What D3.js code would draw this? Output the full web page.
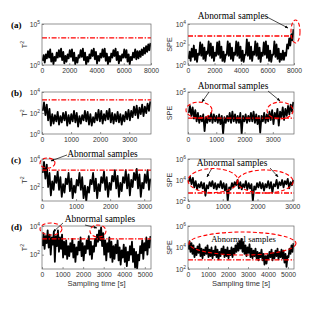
<!DOCTYPE html>
<html>
<head>
<meta charset="utf-8">
<script src="https://cdn.jsdelivr.net/npm/d3@7"></script>
<style>
body { margin: 0; background: #fff; }
svg { display: block; }
</style>
</head>
<body>
<script>
// every series is a list of [low, high] log10 values, one pair per time bin
var t2A = [[0.5,1.2],[0.3,1.3],[0.8,1.7],[0.9,1.9],[0.4,1.4],[0.1,1.0],[0.5,1.5],[0.9,1.8],[1.0,2.0],[0.6,1.6],
  [0.2,1.1],[0.4,1.3],[0.8,1.8],[1.0,1.9],[0.5,1.5],[0.1,0.9],[0.3,1.2],[0.9,1.8],[1.0,2.0],[0.6,1.5],
  [0.0,1.0],[0.4,1.3],[0.8,1.8],[1.1,2.0],[0.7,1.6],[0.2,1.1],[0.5,1.4],[0.9,1.9],[1.0,2.0],[0.5,1.4],
  [0.1,1.0],[0.4,1.4],[0.9,1.8],[1.1,2.0],[0.6,1.6],[0.2,1.1],[0.5,1.3],[0.9,1.9],[0.9,1.8],[0.4,1.3],
  [0.1,1.0],[0.6,1.5],[0.9,1.9],[0.7,1.7],[0.8,1.7],[1.0,1.9],[1.2,2.1],[1.4,2.3],[1.6,2.5],[1.8,2.7]];
var speA = [[0.6,1.3],[0.4,1.6],[0.8,1.9],[0.5,1.5],[0.3,1.1],[1.0,2.2],[0.9,2.0],[0.6,1.7],[0.4,1.3],[1.1,2.3],
  [0.9,2.1],[0.7,1.8],[0.4,1.2],[0.9,2.2],[1.0,2.3],[0.7,1.8],[0.4,1.3],[0.3,1.0],[1.0,2.3],[0.9,2.1],
  [0.6,1.7],[0.4,1.2],[1.0,2.3],[0.9,2.2],[0.7,1.8],[0.4,1.4],[0.3,1.0],[1.0,2.5],[0.9,2.2],[0.6,1.8],
  [0.4,1.3],[1.0,2.3],[0.9,2.1],[0.6,1.7],[0.3,1.2],[0.9,2.2],[1.0,2.3],[0.7,1.9],[0.4,1.4],[0.3,1.0],
  [1.0,2.3],[0.8,2.0],[0.6,1.6],[0.3,1.1],[0.5,1.4],[0.5,1.2],[0.9,2.0],[1.6,2.6],[1.9,3.0],[2.4,3.5]];
var t2B = [[2.2,3.0],[1.8,2.8],[1.3,2.4],[0.8,1.9],[1.0,1.8],[1.2,2.1],[0.9,1.7],[1.1,2.0],[1.3,2.1],[0.8,1.8],
  [1.0,1.9],[1.2,2.2],[1.1,2.0],[0.7,1.7],[1.0,1.8],[1.3,2.2],[1.2,2.1],[0.9,1.9],[0.8,1.6],[1.1,2.0],
  [1.3,2.3],[1.2,2.2],[1.0,1.9],[1.3,2.2],[1.4,2.4],[1.1,2.0],[1.0,1.9],[1.2,2.1],[1.1,1.9],[0.9,1.8],
  [1.2,2.1],[1.4,2.3],[1.3,2.2],[1.6,2.6],[1.8,2.7],[1.5,2.5],[1.9,2.8],[1.7,2.6],[2.0,2.9],[2.2,3.1]];
var speB = [[3.5,4.0],[3.3,3.9],[3.1,3.7],[2.9,3.5],[2.8,3.3],[2.9,3.4],[2.2,3.2],[2.8,3.3],[2.9,3.5],[2.8,3.4],
  [2.9,3.3],[2.8,3.4],[2.7,3.3],[2.0,3.2],[2.8,3.3],[2.9,3.5],[2.8,3.6],[2.9,3.4],[2.8,3.3],[2.8,3.5],
  [2.0,3.3],[2.9,3.4],[2.8,3.3],[2.9,3.5],[2.9,3.6],[2.8,3.4],[2.7,3.3],[2.1,3.3],[2.9,3.5],[2.8,3.4],
  [2.9,3.6],[3.0,3.7],[2.7,3.5],[3.1,3.8],[2.6,3.6],[3.2,3.9],[3.0,3.8],[3.3,4.0],[3.4,4.1],[3.6,4.3]];
var t2C = [[3.0,3.8],[2.6,3.6],[2.0,3.0],[1.4,2.4],[1.8,2.8],[2.3,3.1],[1.8,2.7],[1.3,2.2],[1.6,2.6],[2.2,3.0],
  [1.7,2.6],[1.2,2.1],[1.6,2.5],[2.1,3.0],[1.8,2.7],[1.2,2.1],[1.0,2.0],[1.6,2.5],[2.2,3.0],[1.7,2.6],
  [1.2,2.2],[1.7,2.7],[2.3,3.1],[1.8,2.7],[1.3,2.3],[1.8,2.8],[2.4,3.2],[1.9,2.8],[1.3,2.3],[1.7,2.7],
  [2.3,3.2],[1.9,2.9],[1.4,2.5],[2.0,3.0],[2.5,3.3],[1.9,2.9],[1.3,2.3],[1.9,2.9],[2.3,3.2],[1.8,2.6]];
var speC = [[3.8,4.3],[3.6,4.2],[3.3,3.9],[3.1,3.6],[3.3,3.8],[3.2,3.7],[2.5,3.5],[3.2,3.8],[3.4,3.9],[3.2,3.7],
  [3.1,3.6],[3.3,3.9],[3.2,3.7],[3.0,3.6],[2.0,3.3],[3.1,3.7],[3.3,3.8],[3.5,4.0],[3.2,3.8],[3.1,3.6],
  [3.3,3.9],[3.1,3.7],[3.2,3.6],[2.0,3.4],[3.1,3.7],[3.3,3.8],[3.2,3.7],[3.0,3.6],[3.3,3.9],[3.2,3.8],
  [2.8,3.6],[3.4,4.0],[3.2,3.8],[3.5,4.0],[3.3,3.9],[3.6,4.1],[3.2,3.8],[3.5,4.0]];
var t2D = [[2.6,3.5],[2.4,3.3],[2.8,3.7],[2.5,3.4],[2.0,3.2],[2.7,3.6],[1.5,3.3],[2.6,3.7],[2.2,3.2],[2.4,3.4],
  [1.8,2.9],[2.0,3.0],[1.7,2.6],[1.9,2.8],[2.2,3.1],[1.8,2.7],[1.5,2.5],[2.0,2.9],[2.3,3.2],[1.9,2.8],
  [1.6,2.6],[2.1,3.0],[2.4,3.3],[2.0,2.9],[1.7,2.6],[2.2,3.1],[2.6,3.4],[2.9,3.7],[3.0,3.9],[2.6,3.5],
  [2.0,3.0],[1.6,2.8],[2.2,3.2],[1.8,2.9],[1.5,2.6],[1.7,2.7],[2.1,3.0],[1.6,2.5],[1.3,2.3],[1.8,2.7],
  [1.5,2.5],[1.2,2.2],[1.6,2.6],[2.0,2.9],[1.5,2.4],[1.1,2.2],[1.0,2.0],[1.6,2.6],[2.1,3.0],[1.7,2.8],
  [2.3,3.2],[2.0,3.0],[2.5,3.3]];
var speD = [[3.8,4.6],[3.6,4.4],[3.4,4.2],[3.1,3.9],[3.3,4.1],[3.5,4.3],[3.2,3.9],[3.0,3.8],[3.3,4.0],[3.4,4.2],
  [3.1,3.8],[3.2,4.0],[3.0,3.7],[3.3,4.1],[3.1,3.8],[2.9,3.6],[3.2,3.9],[3.4,4.1],[3.1,3.8],[3.2,4.0],
  [3.0,3.7],[3.3,4.0],[3.1,3.9],[3.4,4.2],[3.6,4.4],[3.7,4.6],[3.9,4.8],[3.6,4.5],[3.4,4.2],[3.2,4.0],
  [3.5,4.3],[3.1,3.9],[3.0,3.7],[3.2,3.9],[3.0,3.6],[2.8,3.5],[3.1,3.8],[2.8,3.4],[2.4,3.2],[2.5,3.3],
  [2.9,3.6],[3.1,3.8],[2.8,3.5],[3.0,3.7],[3.2,3.9],[2.9,3.6],[3.1,3.8],[3.0,3.7],[2.6,3.4],[2.2,3.2],
  [3.1,3.9],[3.4,4.2],[3.6,4.4]];

// control limits (log10)
var limitsT2 = [3.3, 3.25, 3.2, 3.1];
var limitsSPE = [2.83, 3.14, 2.76, 2.84];

var panelNames = ["(a)", "(b)", "(c)", "(d)"];
var timeMax = [8000, 3750, 3200, 5300];
var timeMaxSPE = [8000, 3750, 3050, 5300];
var timeTicks = [[0, 2000, 4000, 6000, 8000], [0, 1000, 2000, 3000], [0, 1000, 2000, 3000],
  [0, 1000, 2000, 3000, 4000, 5000]];
var t2Range = [[0, 5], [0, 4], [1, 4], [1, 4]];
var t2Ticks = [[0, 5], [0, 2, 4], [2, 4], [2, 4]];
var speRange = [[0, 4], [2, 5], [2, 6], [2, 6]];
var speTicks = [[0, 2, 4], [5], [2, 4, 6], [2, 4, 6]];

// annotations, in data units of their panel (panel = row*2 + col)
var notes = [
  {p: 1, kind: "text", x: 3396, y: 4.49},
  {p: 1, kind: "arrow", x1: 5962, y1: 4.68, x2: 7547, y2: 3.61},
  {p: 1, kind: "ellipse", cx: 8113, cy: 3.27, rx: 340, ry: 1.12},
  {p: 3, kind: "text", x: 1593, y: 5.2},
  {p: 3, kind: "arrow", x1: 743, y1: 5.0, x2: 496, y2: 4.29},
  {p: 3, kind: "arrow", x1: 2832, y1: 5.07, x2: 3257, y2: 4.36},
  {p: 3, kind: "ellipse", cx: 389, cy: 3.71, rx: 460, ry: 0.57},
  {p: 3, kind: "ellipse", cx: 3257, cy: 3.68, rx: 460, ry: 0.6},
  {p: 4, kind: "text", x: 1776, y: 4.14},
  {p: 4, kind: "arrow", x1: 734, y1: 4.29, x2: 264, y2: 3.86},
  {p: 4, kind: "ellipse", cx: 161, cy: 3.71, rx: 220, ry: 0.36},
  {p: 5, kind: "text", x: 1267, y: 5.33},
  {p: 5, kind: "arrow", x1: 691, y1: 5.14, x2: 547, y2: 4.29},
  {p: 5, kind: "arrow", x1: 2362, y1: 5.14, x2: 2592, y2: 4.29},
  {p: 5, kind: "ellipse", cx: 720, cy: 3.95, rx: 720, ry: 1.14},
  {p: 5, kind: "ellipse", cx: 2218, cy: 3.86, rx: 806, ry: 1.1},
  {p: 6, kind: "text", x: 2819, y: 4.28},
  {p: 6, kind: "arrow", x1: 1021, y1: 4.21, x2: 535, y2: 3.58},
  {p: 6, kind: "arrow", x1: 2090, y1: 4.07, x2: 2673, y2: 3.86},
  {p: 6, kind: "ellipse", cx: 437, cy: 3.79, rx: 535, ry: 0.42},
  {p: 6, kind: "ellipse", cx: 2722, cy: 3.65, rx: 389, ry: 0.42},
  {p: 7, kind: "ellipse", cx: 2725, cy: 4.37, rx: 2675, ry: 1.07},
  {p: 7, kind: "text", x: 2775, y: 4.51, small: true}
];

var t2Series = [t2A, t2B, t2C, t2D];
var speSeries = [speA, speB, speC, speD];

var width = 327, height = 309;
var colX = [[42, 151], [188, 294]];
var rowY = [[24, 65], [92, 134], [159, 201], [226, 269]];
var sans = "'Liberation Sans', Arial, sans-serif",
    serif = "'Liberation Serif', 'Times New Roman', serif";

var svg = d3.select("body").append("svg")
  .attr("width", width).attr("height", height);

var defs = svg.append("defs");
defs.append("marker")
  .attr("id", "head")
  .attr("viewBox", "0 0 10 10")
  .attr("refX", 9).attr("refY", 5)
  .attr("markerWidth", 5).attr("markerHeight", 5)
  .attr("orient", "auto")
  .append("path").attr("d", "M0,1 L10,5 L0,9 Z").attr("fill", "#000");

var panels = [];
for (var r = 0; r < 4; r++) {
  panels.push({row: r, col: 0, name: panelNames[r], label: "T2", bins: t2Series[r], xMax: timeMax[r],
    xTicks: timeTicks[r], yDom: t2Range[r], yTicks: t2Ticks[r], limit: limitsT2[r]});
  panels.push({row: r, col: 1, label: "SPE", bins: speSeries[r], xMax: timeMaxSPE[r],
    xTicks: timeTicks[r], yDom: speRange[r], yTicks: speTicks[r], limit: limitsSPE[r]});
}

function pow10(v) { return Math.pow(10, v); }

function supLabel(sel, base, exp, size) {
  sel.append("tspan").text(base);
  sel.append("tspan").attr("dy", -size * 0.45).attr("font-size", size * 0.72).text(exp);
}

panels.forEach(function(p, idx) {
  var x = d3.scaleLinear().domain([0, p.xMax]).range(colX[p.col]);
  var y = d3.scaleLog().domain([pow10(p.yDom[0]), pow10(p.yDom[1])]).range([rowY[p.row][1], rowY[p.row][0]]);
  p.x = x; p.y = y;
  var g = svg.append("g");
  var x0 = colX[p.col][0], x1 = colX[p.col][1], y0 = rowY[p.row][0], y1 = rowY[p.row][1];

  g.append("clipPath").attr("id", "clip" + idx)
    .append("rect").attr("x", x0).attr("y", y0).attr("width", x1 - x0).attr("height", y1 - y0);

  // bottom axis with inward ticks
  var xa = g.append("g").attr("transform", "translate(0," + y1 + ")")
    .call(d3.axisBottom(x).tickValues(p.xTicks).tickSize(-2).tickPadding(3).tickFormat(d3.format("d")));
  xa.select(".domain").remove();
  xa.selectAll("line").attr("stroke", "#555").attr("stroke-width", 0.6);
  xa.selectAll("text").attr("font-family", sans).attr("font-size", 6.8).attr("fill", "#333");

  var ya = g.append("g").attr("transform", "translate(" + x0 + ",0)")
    .call(d3.axisLeft(y).tickValues(p.yTicks.map(pow10)).tickSize(-2).tickPadding(2).tickFormat(""));
  ya.select(".domain").remove();
  ya.selectAll("line").attr("stroke", "#555").attr("stroke-width", 0.6);
  ya.selectAll(".tick").each(function(d) {
    var t = d3.select(this).append("text")
      .attr("x", -2).attr("dy", "0.32em")
      .attr("text-anchor", "end")
      .attr("font-family", sans).attr("font-size", 6.8).attr("fill", "#333");
    supLabel(t, "10", Math.round(Math.log10(d)), 6.8);
  });

  // series drawn as a zigzag between the low and high of each bin
  var w = p.xMax / p.bins.length, pts = [];
  p.bins.forEach(function(b, i) {
    pts.push([(i + 0.25) * w, b[0]]);
    pts.push([(i + 0.75) * w, b[1]]);
  });
  g.append("path").datum(pts)
    .attr("clip-path", "url(#clip" + idx + ")")
    .attr("fill", "none").attr("stroke", "#000").attr("stroke-width", 1.8)
    .attr("stroke-linejoin", "round")
    .attr("d", d3.line().x(function(d) { return x(d[0]); }).y(function(d) { return y(pow10(d[1])); }));

  g.append("line")
    .attr("x1", x0).attr("x2", x1)
    .attr("y1", y(pow10(p.limit))).attr("y2", y(pow10(p.limit)))
    .attr("stroke", "#f00").attr("stroke-width", 1.3)
    .attr("stroke-dasharray", "5,1.6,1.4,1.6");

  g.append("rect").attr("x", x0).attr("y", y0).attr("width", x1 - x0).attr("height", y1 - y0)
    .attr("fill", "none").attr("stroke", "#666").attr("stroke-width", 0.7);

  var yl = g.append("text")
    .attr("transform", "translate(" + (p.col ? 172 : 27) + "," + ((y0 + y1) / 2) + ") rotate(-90)")
    .attr("text-anchor", "middle")
    .attr("font-family", sans).attr("font-size", 7.2).attr("fill", "#333");
  if (p.label == "T2") supLabel(yl, "T", "2", 7.2);
  else yl.text(p.label);

  if (p.name) {
    g.append("text").attr("x", 11).attr("y", y0 + 3.5)
      .attr("font-family", serif).attr("font-weight", "bold").attr("font-size", 9)
      .text(p.name);
  }
  if (p.row == 3) {
    g.append("text").attr("x", (x0 + x1) / 2).attr("y", 286)
      .attr("text-anchor", "middle")
      .attr("font-family", sans).attr("font-size", 7.6).attr("fill", "#333")
      .text("Sampling time [s]");
  }
});

notes.forEach(function(n) {
  var p = panels[n.p], x = p.x, y = p.y;
  if (n.kind == "text") {
    svg.append("text").attr("x", x(n.x)).attr("y", y(pow10(n.y)))
      .attr("text-anchor", "middle")
      .attr("font-family", serif).attr("font-size", n.small ? 8.6 : 9.4)
      .text("Abnormal samples");
  } else if (n.kind == "arrow") {
    svg.append("line")
      .attr("x1", x(n.x1)).attr("y1", y(pow10(n.y1)))
      .attr("x2", x(n.x2)).attr("y2", y(pow10(n.y2)))
      .attr("stroke", "#000").attr("stroke-width", 0.7)
      .attr("marker-end", "url(#head)");
  } else {
    var cx = x(n.cx), cy = y(pow10(n.cy));
    svg.append("ellipse")
      .attr("cx", cx).attr("cy", cy)
      .attr("rx", x(n.cx + n.rx) - cx)
      .attr("ry", y(pow10(n.cy - n.ry)) - cy)
      .attr("fill", "none").attr("stroke", "#f00").attr("stroke-width", 1.1)
      .attr("stroke-dasharray", "4,2.2");
  }
});
</script>
</body>
</html>
